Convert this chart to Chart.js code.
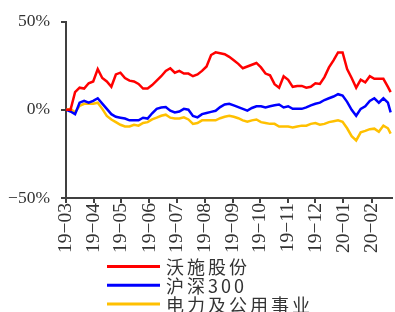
<!DOCTYPE html>
<html><head><meta charset="utf-8">
<script src="https://cdn.jsdelivr.net/npm/chart.js@4"></script>
<style>html,body{margin:0;padding:0;background:#fff}#wrap{width:395px;height:312px;position:relative}canvas{display:block}</style>
</head><body><div id="wrap"><canvas id="c" width="395" height="312"></canvas></div>
<script>
const seriesNames = ['沃施股份', '沪深300', '电力及公用事业'];
const seriesColors = ['#ff0000', '#0000ff', '#ffc000'];
// days since 2019-03-01
const days = [0,5,10,15,20,25,30,35,40,45,50,55,60,65,70,75,80,85,90,95,100,105,110,115,120,125,130,135,140,145,150,155,160,165,170,175,180,185,190,195,200,205,210,215,220,225,230,235,240,245,250,255,260,265,270,275,280,285,290,295,300,305,310,315,320,325,330,335,340,345,350,355,358];
const woshi = [0,0,10,12.5,12,15,16,23,18,16,13,20,21,18,16.5,16,14.6,12,12,14,16.5,19,22,23.5,21,22,20.5,20.5,19,20,22,24.5,31,32.5,32,31.5,30,28,26,23.5,24.5,25.5,26.5,24,20.5,19.5,14.5,12.5,19,17,13,13.5,13.5,12.5,13,15,14.6,18.5,24,28,32.5,32.5,23,18,12.5,17,15.5,19,17.5,17.5,17.5,13,10];
const hs300 = [0,-1,-2.5,4,5,4,5,6.5,3.5,0.5,-2.5,-4,-4.5,-5,-6,-6,-6,-4.5,-5,-2,0.5,1.3,1.5,-0.5,-1.5,-1,0.5,0,-3.5,-4.3,-2.5,-1.8,-1.2,-0.6,1.5,3,3.4,2.5,1.5,0.5,-0.5,1,2,2,1.3,2,2.5,3,1.3,2,0.5,0.5,0.5,1.3,2.5,3.4,4,5.5,6.5,7.5,8.8,8,4.5,0,-3.4,0.5,2,5,6.5,4,6.5,4,-1.5];
const power = [0,0.5,-1.5,2.2,3.4,3.4,3.4,4,0.5,-3.5,-5.5,-7,-8.5,-9.5,-9.5,-8.5,-9,-7.5,-7,-5.5,-4.5,-3.4,-2.8,-4.5,-5,-5,-4.3,-5.5,-8,-7.5,-6,-6,-6,-6,-4.8,-4,-3.4,-4,-4.8,-6,-6.8,-6,-5.5,-7,-7.5,-8,-8,-9.5,-9.5,-9.5,-10,-9.5,-9,-9,-8,-7.5,-8.5,-8,-7,-6.5,-6,-6.8,-10.5,-15,-17.4,-12.8,-12,-11,-10.7,-12.5,-9,-10.5,-13.5];
const monthTickDays = [0,31,61,92,122,153,184,214,245,275,306,337];
const monthTickLabels = ['19−03','19−04','19−05','19−06','19−07','19−08','19−09','19−10','19−11','19−12','20−01','20−02'];
const yTickValues = [-50, 0, 50];

const seriesValues = [woshi, hs300, power];
const axisColor = '#404040';
const yTickFont = {family: '"Liberation Serif", serif', size: 17.5};
const xTickFont = {family: '"Liberation Serif", serif', size: 19.5};

const legendPlugin = {
  id: 'stackedLegend',
  afterDraw(chart) {
    const ctx = chart.ctx;
    ctx.save();
    chart.data.datasets.forEach((ds, i) => {
      const y = 266.5 + i * 18.8;
      ctx.strokeStyle = ds.borderColor;
      ctx.lineWidth = 3;
      ctx.beginPath();
      ctx.moveTo(107, y);
      ctx.lineTo(160, y);
      ctx.stroke();
      ctx.fillStyle = '#333';
      ctx.font = '18px "Noto Sans CJK SC"';
      try { ctx.letterSpacing = '3px'; } catch (e) {}
      ctx.textBaseline = 'middle';
      ctx.textAlign = 'left';
      ctx.fillText(ds.label, 166, y + 1);
    });
    ctx.restore();
  }
};

new Chart(document.getElementById('c'), {
  type: 'line',
  data: {
    datasets: seriesNames.map((name, k) => ({
      label: name,
      data: days.map((d, i) => ({x: d, y: seriesValues[k][i]})),
      borderColor: seriesColors[k],
      backgroundColor: seriesColors[k],
      borderWidth: 2.5,
      pointRadius: 0,
      tension: 0,
      fill: false
    }))
  },
  options: {
    responsive: false,
    animation: false,
    devicePixelRatio: 1,
    layout: {padding: {top: 20, right: 0, bottom: 57, left: 0}},
    plugins: {legend: {display: false}, tooltip: {enabled: false}},
    scales: {
      x: {
        type: 'linear', min: 0, max: 360,
        afterBuildTicks: s => { s.ticks = monthTickDays.map(v => ({value: v})); },
        afterFit: s => { s.height = 57; },
        ticks: {
          autoSkip: false, maxRotation: 90, minRotation: 90, padding: 0,
          font: xTickFont, color: '#333',
          callback: v => monthTickLabels[monthTickDays.indexOf(v)]
        },
        grid: {drawOnChartArea: false, drawTicks: true, tickLength: 5, color: axisColor, lineWidth: 2},
        border: {display: true, color: axisColor, width: 2}
      },
      y: {
        type: 'linear', min: -50, max: 50,
        afterBuildTicks: s => { s.ticks = yTickValues.map(v => ({value: v})); },
        afterFit: s => { s.width = 66; },
        ticks: {
          padding: 11, font: yTickFont, color: '#333',
          callback: v => (v < 0 ? '−' : '') + Math.abs(v) + '%'
        },
        grid: {drawOnChartArea: false, drawTicks: true, tickLength: 5, color: axisColor, lineWidth: 2},
        border: {display: true, color: axisColor, width: 2}
      }
    }
  },
  plugins: [legendPlugin]
});
</script>
</body></html>
